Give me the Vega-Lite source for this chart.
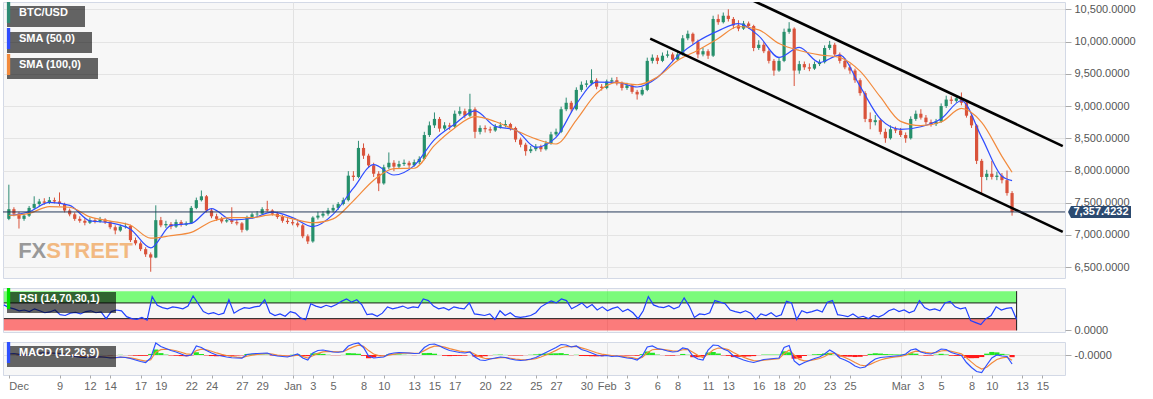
{
"$schema":"https://vega.github.io/schema/vega-lite/v6.json",
"background":"#ffffff",
"padding":{"left":0,"top":1,"right":5,"bottom":5},
"config":{
 "font":"Liberation Sans",
 "view":{"fill":"#f7f7f7","stroke":"#d3d9e6","strokeWidth":1},
 "axis":{"labelFont":"Liberation Sans","labelOverlap":false},
 "legend":{"orient":"top-left","offset":4,"fillColor":"rgba(0,0,0,0.6)","padding":1,"labelColor":"#ffffff","labelFont":"Liberation Sans","labelFontSize":11,"labelFontWeight":"bold","symbolType":"M-3,-5.2V5.2M-2.6,-5.2V5.2M-2.25,-5.2V5.2M-1.95,-5.2V5.2","symbolSize":16,"symbolStrokeWidth":1.2,"labelOffset":0,"layout":{"top-left":{"direction":"vertical","margin":5,"anchor":"start"}}}
},
"datasets":{
"c":[
{"t":"2019-12-04T00:00","o":7250,"h":7780,"l":7230,"c":7400,"r":65,"m":20,"q":20,"g":0},
{"t":"2019-12-04T12:00","o":7400,"h":7430,"l":7290,"c":7330,"r":58,"m":30,"q":25,"g":3},
{"t":"2019-12-05T00:00","o":7330,"h":7360,"l":7100,"c":7250,"r":55,"m":10,"q":18,"g":-5},
{"t":"2019-12-05T12:00","o":7250,"h":7330,"l":7220,"c":7300,"r":50,"m":0,"q":10,"g":-6},
{"t":"2019-12-06T00:00","o":7300,"h":7450,"l":7280,"c":7420,"r":52,"m":15,"q":12,"g":2},
{"t":"2019-12-06T12:00","o":7420,"h":7600,"l":7400,"c":7480,"r":48,"m":30,"q":20,"g":6},
{"t":"2019-12-07T00:00","o":7480,"h":7560,"l":7450,"c":7520,"r":55,"m":40,"q":29,"g":7},
{"t":"2019-12-07T12:00","o":7520,"h":7570,"l":7470,"c":7500,"r":50,"m":45,"q":36,"g":5},
{"t":"2019-12-08T00:00","o":7500,"h":7590,"l":7480,"c":7540,"r":45,"m":40,"q":38,"g":1},
{"t":"2019-12-08T12:00","o":7540,"h":7580,"l":7490,"c":7520,"r":47,"m":35,"q":37,"g":-1},
{"t":"2019-12-09T00:00","o":7520,"h":7660,"l":7450,"c":7480,"r":52,"m":30,"q":34,"g":-2},
{"t":"2019-12-09T12:00","o":7480,"h":7500,"l":7350,"c":7380,"r":40,"m":10,"q":23,"g":-8},
{"t":"2019-12-10T00:00","o":7380,"h":7410,"l":7290,"c":7320,"r":38,"m":-10,"q":8,"g":-11},
{"t":"2019-12-10T12:00","o":7320,"h":7350,"l":7220,"c":7250,"r":44,"m":-30,"q":-9,"g":-13},
{"t":"2019-12-11T00:00","o":7250,"h":7290,"l":7190,"c":7220,"r":46,"m":-45,"q":-25,"g":-12},
{"t":"2019-12-11T12:00","o":7220,"h":7260,"l":7150,"c":7190,"r":42,"m":-50,"q":-36,"g":-8},
{"t":"2019-12-12T00:00","o":7190,"h":7270,"l":7170,"c":7230,"r":48,"m":-45,"q":-40,"g":-3},
{"t":"2019-12-12T12:00","o":7230,"h":7260,"l":7180,"c":7210,"r":50,"m":-40,"q":-40,"g":0},
{"t":"2019-12-13T00:00","o":7210,"h":7280,"l":7190,"c":7240,"r":45,"m":-35,"q":-38,"g":2},
{"t":"2019-12-13T12:00","o":7240,"h":7260,"l":7170,"c":7200,"r":47,"m":-45,"q":-41,"g":-2},
{"t":"2019-12-14T00:00","o":7200,"h":7220,"l":7090,"c":7120,"r":30,"m":-60,"q":-50,"g":-6},
{"t":"2019-12-14T12:00","o":7120,"h":7150,"l":7010,"c":7070,"r":48,"m":-55,"q":-52,"g":-2},
{"t":"2019-12-15T00:00","o":7070,"h":7160,"l":7050,"c":7130,"r":52,"m":-40,"q":-47,"g":4},
{"t":"2019-12-15T12:00","o":7130,"h":7190,"l":7100,"c":7140,"r":50,"m":-50,"q":-48,"g":-1},
{"t":"2019-12-16T00:00","o":7140,"h":7160,"l":6890,"c":6920,"r":35,"m":-70,"q":-58,"g":-7},
{"t":"2019-12-16T12:00","o":6920,"h":6960,"l":6840,"c":6870,"r":30,"m":-100,"q":-77,"g":-14},
{"t":"2019-12-17T00:00","o":6870,"h":6900,"l":6750,"c":6780,"r":28,"m":-130,"q":-101,"g":-17},
{"t":"2019-12-17T12:00","o":6780,"h":6810,"l":6660,"c":6700,"r":33,"m":-150,"q":-123,"g":-16},
{"t":"2019-12-18T00:00","o":6700,"h":6730,"l":6430,"c":6650,"r":26,"m":-60,"q":-95,"g":21},
{"t":"2019-12-18T12:00","o":6650,"h":7460,"l":6640,"c":7230,"r":86,"m":240,"q":56,"g":110},
{"t":"2019-12-19T00:00","o":7230,"h":7280,"l":7120,"c":7150,"r":64,"m":170,"q":107,"g":38},
{"t":"2019-12-19T12:00","o":7150,"h":7220,"l":7110,"c":7170,"r":58,"m":130,"q":117,"g":8},
{"t":"2019-12-20T00:00","o":7170,"h":7200,"l":7090,"c":7130,"r":55,"m":90,"q":105,"g":-9},
{"t":"2019-12-20T12:00","o":7130,"h":7240,"l":7110,"c":7200,"r":60,"m":60,"q":85,"g":-15},
{"t":"2019-12-21T00:00","o":7200,"h":7230,"l":7130,"c":7160,"r":58,"m":20,"q":56,"g":-22},
{"t":"2019-12-21T12:00","o":7160,"h":7210,"l":7140,"c":7180,"r":55,"m":-20,"q":22,"g":-25},
{"t":"2019-12-22T00:00","o":7180,"h":7450,"l":7170,"c":7420,"r":62,"m":0,"q":12,"g":-7},
{"t":"2019-12-22T12:00","o":7420,"h":7580,"l":7400,"c":7540,"r":88,"m":180,"q":88,"g":55},
{"t":"2019-12-23T00:00","o":7540,"h":7690,"l":7520,"c":7600,"r":68,"m":150,"q":116,"g":20},
{"t":"2019-12-23T12:00","o":7600,"h":7620,"l":7350,"c":7380,"r":48,"m":90,"q":104,"g":-8},
{"t":"2019-12-24T00:00","o":7380,"h":7410,"l":7260,"c":7290,"r":42,"m":40,"q":75,"g":-21},
{"t":"2019-12-24T12:00","o":7290,"h":7330,"l":7220,"c":7250,"r":45,"m":0,"q":41,"g":-25},
{"t":"2019-12-25T00:00","o":7250,"h":7280,"l":7180,"c":7210,"r":40,"m":-20,"q":14,"g":-20},
{"t":"2019-12-25T12:00","o":7210,"h":7260,"l":7190,"c":7230,"r":44,"m":-40,"q":-10,"g":-18},
{"t":"2019-12-26T00:00","o":7230,"h":7430,"l":7170,"c":7200,"r":78,"m":-55,"q":-30,"g":-15},
{"t":"2019-12-26T12:00","o":7200,"h":7240,"l":7150,"c":7180,"r":44,"m":-60,"q":-44,"g":-10},
{"t":"2019-12-27T00:00","o":7180,"h":7200,"l":7040,"c":7080,"r":52,"m":-65,"q":-53,"g":-7},
{"t":"2019-12-27T12:00","o":7080,"h":7300,"l":7060,"c":7280,"r":58,"m":10,"q":-25,"g":21},
{"t":"2019-12-28T00:00","o":7280,"h":7350,"l":7250,"c":7320,"r":56,"m":25,"q":-2,"g":16},
{"t":"2019-12-28T12:00","o":7320,"h":7370,"l":7290,"c":7330,"r":60,"m":30,"q":12,"g":11},
{"t":"2019-12-29T00:00","o":7330,"h":7430,"l":7310,"c":7400,"r":62,"m":35,"q":22,"g":8},
{"t":"2019-12-29T12:00","o":7400,"h":7530,"l":7360,"c":7380,"r":78,"m":40,"q":30,"g":6},
{"t":"2019-12-30T00:00","o":7380,"h":7400,"l":7300,"c":7330,"r":45,"m":0,"q":17,"g":-10},
{"t":"2019-12-30T12:00","o":7330,"h":7360,"l":7250,"c":7280,"r":38,"m":-20,"q":0,"g":-12},
{"t":"2019-12-31T00:00","o":7280,"h":7310,"l":7190,"c":7220,"r":42,"m":-30,"q":-13,"g":-10},
{"t":"2019-12-31T12:00","o":7220,"h":7260,"l":7170,"c":7200,"r":36,"m":-40,"q":-25,"g":-9},
{"t":"2020-01-01T00:00","o":7200,"h":7240,"l":7150,"c":7180,"r":48,"m":-10,"q":-18,"g":5},
{"t":"2020-01-01T12:00","o":7180,"h":7210,"l":7120,"c":7150,"r":44,"m":20,"q":-1,"g":13},
{"t":"2020-01-02T00:00","o":7150,"h":7170,"l":6950,"c":6980,"r":32,"m":-60,"q":-28,"g":-19},
{"t":"2020-01-02T12:00","o":6980,"h":7010,"l":6860,"c":6900,"r":27,"m":-100,"q":-60,"g":-24},
{"t":"2020-01-03T00:00","o":6900,"h":7290,"l":6880,"c":7270,"r":68,"m":40,"q":-15,"g":33},
{"t":"2020-01-03T12:00","o":7270,"h":7360,"l":7240,"c":7300,"r":62,"m":90,"q":32,"g":35},
{"t":"2020-01-04T00:00","o":7300,"h":7370,"l":7270,"c":7330,"r":58,"m":100,"q":63,"g":22},
{"t":"2020-01-04T12:00","o":7330,"h":7420,"l":7300,"c":7380,"r":64,"m":80,"q":71,"g":5},
{"t":"2020-01-05T00:00","o":7380,"h":7470,"l":7350,"c":7420,"r":60,"m":60,"q":66,"g":-4},
{"t":"2020-01-05T12:00","o":7420,"h":7510,"l":7390,"c":7480,"r":66,"m":55,"q":61,"g":-4},
{"t":"2020-01-06T00:00","o":7480,"h":7580,"l":7460,"c":7540,"r":74,"m":70,"q":65,"g":3},
{"t":"2020-01-06T12:00","o":7540,"h":7990,"l":7520,"c":7920,"r":80,"m":180,"q":117,"g":38},
{"t":"2020-01-07T00:00","o":7920,"h":7990,"l":7840,"c":7900,"r":72,"m":220,"q":163,"g":34},
{"t":"2020-01-07T12:00","o":7900,"h":8460,"l":7880,"c":8350,"r":78,"m":240,"q":198,"g":25},
{"t":"2020-01-08T00:00","o":8350,"h":8420,"l":8180,"c":8230,"r":65,"m":150,"q":176,"g":-16},
{"t":"2020-01-08T12:00","o":8230,"h":8260,"l":8040,"c":8080,"r":40,"m":-20,"q":88,"g":-65},
{"t":"2020-01-09T00:00","o":8080,"h":8120,"l":7900,"c":7950,"r":42,"m":-60,"q":21,"g":-49},
{"t":"2020-01-09T12:00","o":7950,"h":7990,"l":7680,"c":7800,"r":36,"m":-50,"q":-11,"g":-23},
{"t":"2020-01-10T00:00","o":7800,"h":8090,"l":7780,"c":8050,"r":44,"m":-40,"q":-24,"g":-10},
{"t":"2020-01-10T12:00","o":8050,"h":8280,"l":8020,"c":8120,"r":60,"m":20,"q":-4,"g":14},
{"t":"2020-01-11T00:00","o":8120,"h":8160,"l":7990,"c":8060,"r":55,"m":40,"q":16,"g":14},
{"t":"2020-01-11T12:00","o":8060,"h":8150,"l":8030,"c":8100,"r":58,"m":50,"q":31,"g":11},
{"t":"2020-01-12T00:00","o":8100,"h":8170,"l":8070,"c":8120,"r":62,"m":45,"q":37,"g":5},
{"t":"2020-01-12T12:00","o":8120,"h":8150,"l":8040,"c":8080,"r":56,"m":40,"q":38,"g":1},
{"t":"2020-01-13T00:00","o":8080,"h":8170,"l":8060,"c":8130,"r":60,"m":30,"q":35,"g":-3},
{"t":"2020-01-13T12:00","o":8130,"h":8220,"l":8100,"c":8180,"r":58,"m":35,"q":35,"g":0},
{"t":"2020-01-14T00:00","o":8180,"h":8600,"l":8160,"c":8550,"r":80,"m":150,"q":87,"g":38},
{"t":"2020-01-14T12:00","o":8550,"h":8760,"l":8520,"c":8700,"r":76,"m":210,"q":142,"g":41},
{"t":"2020-01-15T00:00","o":8700,"h":8900,"l":8660,"c":8800,"r":62,"m":220,"q":177,"g":26},
{"t":"2020-01-15T12:00","o":8800,"h":8830,"l":8600,"c":8650,"r":55,"m":180,"q":178,"g":1},
{"t":"2020-01-16T00:00","o":8650,"h":8750,"l":8620,"c":8700,"r":58,"m":130,"q":156,"g":-16},
{"t":"2020-01-16T12:00","o":8700,"h":8740,"l":8630,"c":8680,"r":52,"m":90,"q":126,"g":-22},
{"t":"2020-01-17T00:00","o":8680,"h":8930,"l":8660,"c":8880,"r":60,"m":70,"q":101,"g":-19},
{"t":"2020-01-17T12:00","o":8880,"h":8990,"l":8850,"c":8920,"r":57,"m":50,"q":78,"g":-17},
{"t":"2020-01-18T00:00","o":8920,"h":8960,"l":8810,"c":8850,"r":55,"m":40,"q":61,"g":-13},
{"t":"2020-01-18T12:00","o":8850,"h":9190,"l":8830,"c":8950,"r":70,"m":60,"q":61,"g":0},
{"t":"2020-01-19T00:00","o":8950,"h":8980,"l":8500,"c":8600,"r":42,"m":-40,"q":15,"g":-33},
{"t":"2020-01-19T12:00","o":8600,"h":8700,"l":8560,"c":8660,"r":40,"m":-100,"q":-37,"g":-38},
{"t":"2020-01-20T00:00","o":8660,"h":8700,"l":8590,"c":8640,"r":38,"m":-110,"q":-70,"g":-24},
{"t":"2020-01-20T12:00","o":8640,"h":8680,"l":8580,"c":8620,"r":42,"m":-80,"q":-74,"g":-4},
{"t":"2020-01-21T00:00","o":8620,"h":8720,"l":8600,"c":8680,"r":28,"m":-60,"q":-68,"g":5},
{"t":"2020-01-21T12:00","o":8680,"h":8750,"l":8650,"c":8700,"r":50,"m":-40,"q":-55,"g":9},
{"t":"2020-01-22T00:00","o":8700,"h":8780,"l":8670,"c":8720,"r":38,"m":-50,"q":-53,"g":2},
{"t":"2020-01-22T12:00","o":8720,"h":8740,"l":8620,"c":8660,"r":45,"m":-80,"q":-65,"g":-9},
{"t":"2020-01-23T00:00","o":8660,"h":8680,"l":8440,"c":8480,"r":35,"m":-100,"q":-81,"g":-11},
{"t":"2020-01-23T12:00","o":8480,"h":8510,"l":8360,"c":8400,"r":33,"m":-110,"q":-94,"g":-10},
{"t":"2020-01-24T00:00","o":8400,"h":8430,"l":8230,"c":8300,"r":35,"m":-100,"q":-97,"g":-2},
{"t":"2020-01-24T12:00","o":8300,"h":8380,"l":8270,"c":8330,"r":38,"m":-80,"q":-89,"g":5},
{"t":"2020-01-25T00:00","o":8330,"h":8410,"l":8300,"c":8370,"r":45,"m":-50,"q":-71,"g":13},
{"t":"2020-01-25T12:00","o":8370,"h":8400,"l":8290,"c":8330,"r":60,"m":0,"q":-39,"g":23},
{"t":"2020-01-26T00:00","o":8330,"h":8460,"l":8310,"c":8420,"r":68,"m":50,"q":1,"g":29},
{"t":"2020-01-26T12:00","o":8420,"h":8600,"l":8400,"c":8560,"r":75,"m":100,"q":46,"g":32},
{"t":"2020-01-27T00:00","o":8560,"h":8650,"l":8530,"c":8600,"r":70,"m":150,"q":93,"g":34},
{"t":"2020-01-27T12:00","o":8600,"h":8990,"l":8580,"c":8950,"r":80,"m":210,"q":146,"g":38},
{"t":"2020-01-28T00:00","o":8950,"h":9130,"l":8920,"c":9050,"r":76,"m":200,"q":170,"g":18},
{"t":"2020-01-28T12:00","o":9050,"h":9080,"l":8900,"c":8950,"r":55,"m":160,"q":166,"g":-4},
{"t":"2020-01-29T00:00","o":8950,"h":9290,"l":8930,"c":9250,"r":62,"m":180,"q":172,"g":5},
{"t":"2020-01-29T12:00","o":9250,"h":9380,"l":9220,"c":9330,"r":70,"m":110,"q":144,"g":-20},
{"t":"2020-01-30T00:00","o":9330,"h":9400,"l":9290,"c":9350,"r":58,"m":80,"q":115,"g":-21},
{"t":"2020-01-30T12:00","o":9350,"h":9570,"l":9320,"c":9400,"r":66,"m":40,"q":81,"g":-25},
{"t":"2020-01-31T00:00","o":9400,"h":9430,"l":9260,"c":9300,"r":52,"m":0,"q":45,"g":-27},
{"t":"2020-01-31T12:00","o":9300,"h":9340,"l":9240,"c":9280,"r":60,"m":-20,"q":16,"g":-22},
{"t":"2020-02-01T00:00","o":9280,"h":9410,"l":9260,"c":9380,"r":50,"m":-10,"q":4,"g":-8},
{"t":"2020-02-01T12:00","o":9380,"h":9440,"l":9350,"c":9400,"r":56,"m":-30,"q":-11,"g":-11},
{"t":"2020-02-02T00:00","o":9400,"h":9450,"l":9320,"c":9350,"r":60,"m":-20,"q":-15,"g":-3},
{"t":"2020-02-02T12:00","o":9350,"h":9380,"l":9240,"c":9280,"r":48,"m":-40,"q":-26,"g":-8},
{"t":"2020-02-03T00:00","o":9280,"h":9360,"l":9250,"c":9320,"r":54,"m":-60,"q":-41,"g":-11},
{"t":"2020-02-03T12:00","o":9320,"h":9340,"l":9190,"c":9220,"r":45,"m":-70,"q":-54,"g":-10},
{"t":"2020-02-04T00:00","o":9220,"h":9250,"l":9100,"c":9180,"r":30,"m":-100,"q":-75,"g":-15},
{"t":"2020-02-04T12:00","o":9180,"h":9290,"l":9160,"c":9250,"r":50,"m":-20,"q":-50,"g":18},
{"t":"2020-02-05T00:00","o":9250,"h":9750,"l":9230,"c":9700,"r":86,"m":160,"q":44,"g":70},
{"t":"2020-02-05T12:00","o":9700,"h":9800,"l":9660,"c":9750,"r":65,"m":180,"q":105,"g":45},
{"t":"2020-02-06T00:00","o":9750,"h":9790,"l":9650,"c":9700,"r":60,"m":130,"q":116,"g":8},
{"t":"2020-02-06T12:00","o":9700,"h":9830,"l":9680,"c":9780,"r":58,"m":110,"q":113,"g":-2},
{"t":"2020-02-07T00:00","o":9780,"h":9860,"l":9750,"c":9800,"r":63,"m":80,"q":98,"g":-11},
{"t":"2020-02-07T12:00","o":9800,"h":9830,"l":9680,"c":9720,"r":55,"m":60,"q":81,"g":-13},
{"t":"2020-02-08T00:00","o":9720,"h":9840,"l":9700,"c":9800,"r":60,"m":70,"q":76,"g":-4},
{"t":"2020-02-08T12:00","o":9800,"h":10100,"l":9780,"c":10050,"r":83,"m":140,"q":105,"g":21},
{"t":"2020-02-09T00:00","o":10050,"h":10170,"l":10020,"c":10120,"r":62,"m":120,"q":112,"g":5},
{"t":"2020-02-09T12:00","o":10120,"h":10140,"l":9960,"c":10000,"r":33,"m":-20,"q":53,"g":-44},
{"t":"2020-02-10T00:00","o":10000,"h":10030,"l":9740,"c":9800,"r":42,"m":-80,"q":-7,"g":-44},
{"t":"2020-02-10T12:00","o":9800,"h":9900,"l":9770,"c":9850,"r":40,"m":-100,"q":-49,"g":-31},
{"t":"2020-02-11T00:00","o":9850,"h":9880,"l":9730,"c":9780,"r":45,"m":100,"q":18,"g":49},
{"t":"2020-02-11T12:00","o":9780,"h":10400,"l":9760,"c":10350,"r":76,"m":200,"q":100,"g":60},
{"t":"2020-02-12T00:00","o":10350,"h":10420,"l":10260,"c":10300,"r":72,"m":190,"q":140,"g":30},
{"t":"2020-02-12T12:00","o":10300,"h":10450,"l":10280,"c":10400,"r":68,"m":120,"q":131,"g":-7},
{"t":"2020-02-13T00:00","o":10400,"h":10500,"l":10310,"c":10350,"r":52,"m":80,"q":108,"g":-17},
{"t":"2020-02-13T12:00","o":10350,"h":10380,"l":10200,"c":10250,"r":48,"m":-20,"q":50,"g":-42},
{"t":"2020-02-14T00:00","o":10250,"h":10330,"l":10160,"c":10200,"r":45,"m":-60,"q":1,"g":-37},
{"t":"2020-02-14T12:00","o":10200,"h":10320,"l":10180,"c":10280,"r":50,"m":-100,"q":-44,"g":-34},
{"t":"2020-02-15T00:00","o":10280,"h":10310,"l":10200,"c":10240,"r":44,"m":-130,"q":-83,"g":-28},
{"t":"2020-02-15T12:00","o":10240,"h":10260,"l":9850,"c":9900,"r":28,"m":-150,"q":-113,"g":-22},
{"t":"2020-02-16T00:00","o":9900,"h":10020,"l":9870,"c":9950,"r":42,"m":-120,"q":-116,"g":-2},
{"t":"2020-02-16T12:00","o":9950,"h":9990,"l":9820,"c":9850,"r":38,"m":-90,"q":-104,"g":8},
{"t":"2020-02-17T00:00","o":9850,"h":9880,"l":9660,"c":9700,"r":45,"m":-80,"q":-93,"g":8},
{"t":"2020-02-17T12:00","o":9700,"h":9730,"l":9470,"c":9550,"r":35,"m":-70,"q":-83,"g":8},
{"t":"2020-02-18T00:00","o":9550,"h":9750,"l":9530,"c":9700,"r":40,"m":-60,"q":-73,"g":8},
{"t":"2020-02-18T12:00","o":9700,"h":10200,"l":9680,"c":10150,"r":74,"m":150,"q":27,"g":74},
{"t":"2020-02-19T00:00","o":10150,"h":10300,"l":10120,"c":10200,"r":70,"m":190,"q":100,"g":54},
{"t":"2020-02-19T12:00","o":10200,"h":10220,"l":9310,"c":9550,"r":28,"m":-120,"q":1,"g":-73},
{"t":"2020-02-20T00:00","o":9550,"h":9700,"l":9500,"c":9650,"r":50,"m":-200,"q":-89,"g":-67},
{"t":"2020-02-20T12:00","o":9650,"h":9690,"l":9560,"c":9600,"r":45,"m":-150,"q":-116,"g":-20},
{"t":"2020-02-21T00:00","o":9600,"h":9660,"l":9540,"c":9580,"r":48,"m":-110,"q":-113,"g":2},
{"t":"2020-02-21T12:00","o":9580,"h":9690,"l":9560,"c":9650,"r":52,"m":-70,"q":-94,"g":14},
{"t":"2020-02-22T00:00","o":9650,"h":9720,"l":9620,"c":9680,"r":47,"m":-40,"q":-70,"g":18},
{"t":"2020-02-22T12:00","o":9680,"h":9940,"l":9660,"c":9900,"r":72,"m":20,"q":-30,"g":30},
{"t":"2020-02-23T00:00","o":9900,"h":10010,"l":9870,"c":9950,"r":76,"m":100,"q":29,"g":43},
{"t":"2020-02-23T12:00","o":9950,"h":9980,"l":9760,"c":9800,"r":40,"m":40,"q":34,"g":4},
{"t":"2020-02-24T00:00","o":9800,"h":9830,"l":9660,"c":9700,"r":38,"m":-60,"q":-8,"g":-31},
{"t":"2020-02-24T12:00","o":9700,"h":9740,"l":9570,"c":9600,"r":35,"m":-100,"q":-49,"g":-31},
{"t":"2020-02-25T00:00","o":9600,"h":9650,"l":9500,"c":9550,"r":42,"m":-150,"q":-94,"g":-34},
{"t":"2020-02-25T12:00","o":9550,"h":9580,"l":9360,"c":9400,"r":33,"m":-220,"q":-151,"g":-41},
{"t":"2020-02-26T00:00","o":9400,"h":9430,"l":9160,"c":9200,"r":36,"m":-260,"q":-200,"g":-36},
{"t":"2020-02-26T12:00","o":9200,"h":9230,"l":8750,"c":8800,"r":30,"m":-240,"q":-218,"g":-13},
{"t":"2020-02-27T00:00","o":8800,"h":8900,"l":8640,"c":8750,"r":38,"m":-150,"q":-187,"g":22},
{"t":"2020-02-27T12:00","o":8750,"h":8860,"l":8700,"c":8780,"r":34,"m":-80,"q":-139,"g":35},
{"t":"2020-02-28T00:00","o":8780,"h":8810,"l":8560,"c":8600,"r":40,"m":-50,"q":-99,"g":29},
{"t":"2020-02-28T12:00","o":8600,"h":8650,"l":8430,"c":8500,"r":50,"m":-40,"q":-72,"g":19},
{"t":"2020-02-29T00:00","o":8500,"h":8700,"l":8480,"c":8640,"r":55,"m":-30,"q":-53,"g":14},
{"t":"2020-02-29T12:00","o":8640,"h":8680,"l":8580,"c":8620,"r":48,"m":-20,"q":-38,"g":11},
{"t":"2020-03-01T00:00","o":8620,"h":8660,"l":8520,"c":8550,"r":52,"m":-10,"q":-26,"g":10},
{"t":"2020-03-01T12:00","o":8550,"h":8590,"l":8430,"c":8500,"r":45,"m":20,"q":-5,"g":15},
{"t":"2020-03-02T00:00","o":8500,"h":8840,"l":8480,"c":8800,"r":50,"m":100,"q":42,"g":35},
{"t":"2020-03-02T12:00","o":8800,"h":8930,"l":8770,"c":8880,"r":76,"m":120,"q":77,"g":26},
{"t":"2020-03-03T00:00","o":8880,"h":8950,"l":8790,"c":8820,"r":58,"m":60,"q":69,"g":-5},
{"t":"2020-03-03T12:00","o":8820,"h":8860,"l":8710,"c":8750,"r":52,"m":30,"q":52,"g":-13},
{"t":"2020-03-04T00:00","o":8750,"h":8790,"l":8680,"c":8720,"r":55,"m":20,"q":38,"g":-11},
{"t":"2020-03-04T12:00","o":8720,"h":8800,"l":8690,"c":8760,"r":50,"m":60,"q":48,"g":7},
{"t":"2020-03-05T00:00","o":8760,"h":9040,"l":8740,"c":9000,"r":70,"m":120,"q":80,"g":24},
{"t":"2020-03-05T12:00","o":9000,"h":9160,"l":8970,"c":9100,"r":74,"m":110,"q":94,"g":10},
{"t":"2020-03-06T00:00","o":9100,"h":9150,"l":9030,"c":9080,"r":60,"m":50,"q":74,"g":-14},
{"t":"2020-03-06T12:00","o":9080,"h":9170,"l":9050,"c":9120,"r":55,"m":20,"q":50,"g":-18},
{"t":"2020-03-07T00:00","o":9120,"h":9210,"l":9010,"c":9050,"r":58,"m":-10,"q":23,"g":-20},
{"t":"2020-03-07T12:00","o":9050,"h":9070,"l":8820,"c":8850,"r":25,"m":-150,"q":-55,"g":-57},
{"t":"2020-03-08T00:00","o":8850,"h":8880,"l":8660,"c":8700,"r":20,"m":-250,"q":-143,"g":-64},
{"t":"2020-03-08T12:00","o":8700,"h":8720,"l":8100,"c":8150,"r":15,"m":-330,"q":-227,"g":-62},
{"t":"2020-03-09T00:00","o":8150,"h":8180,"l":7650,"c":7900,"r":30,"m":-350,"q":-282,"g":-41},
{"t":"2020-03-09T12:00","o":7900,"h":8010,"l":7850,"c":7950,"r":38,"m":-200,"q":-245,"g":27},
{"t":"2020-03-10T00:00","o":7950,"h":8150,"l":7860,"c":7900,"r":60,"m":-60,"q":-162,"g":61},
{"t":"2020-03-10T12:00","o":7900,"h":7980,"l":7850,"c":7920,"r":52,"m":0,"q":-89,"g":53},
{"t":"2020-03-11T00:00","o":7920,"h":7960,"l":7800,"c":7850,"r":56,"m":-20,"q":-58,"g":23},
{"t":"2020-03-11T12:00","o":7850,"h":8000,"l":7610,"c":7650,"r":58,"m":-30,"q":-45,"g":9},
{"t":"2020-03-12T00:00","o":7650,"h":7680,"l":7300,"c":7357,"r":28,"m":-180,"q":-106,"g":-44}
],
"s":[
{"t":"2019-12-04T00:00","a":7302,"b":7302},{"t":"2019-12-06T00:00","a":7360,"b":7335},{"t":"2019-12-08T00:00","a":7505,"b":7440},{"t":"2019-12-10T00:00","a":7460,"b":7430},
{"t":"2019-12-12T00:00","a":7220,"b":7280},{"t":"2019-12-14T00:00","a":7190,"b":7215},{"t":"2019-12-16T00:00","a":7090,"b":7150},{"t":"2019-12-18T00:00","a":6800,"b":6950},
{"t":"2019-12-20T00:00","a":7150,"b":6990},{"t":"2019-12-22T00:00","a":7180,"b":7040},{"t":"2019-12-24T00:00","a":7410,"b":7210},{"t":"2019-12-26T00:00","a":7235,"b":7270},
{"t":"2019-12-28T00:00","a":7260,"b":7270},{"t":"2019-12-30T00:00","a":7354,"b":7317},{"t":"2020-01-01T00:00","a":7270,"b":7250},{"t":"2020-01-03T00:00","a":7130,"b":7190},
{"t":"2020-01-05T00:00","a":7320,"b":7250},{"t":"2020-01-07T00:00","a":7725,"b":7530},{"t":"2020-01-09T00:00","a":8090,"b":7850},{"t":"2020-01-11T00:00","a":7930,"b":8030},
{"t":"2020-01-13T00:00","a":8076,"b":8035},{"t":"2020-01-15T00:00","a":8480,"b":8390},{"t":"2020-01-17T00:00","a":8720,"b":8660},{"t":"2020-01-19T00:00","a":8925,"b":8834},
{"t":"2020-01-21T00:00","a":8685,"b":8760},{"t":"2020-01-23T00:00","a":8628,"b":8625},{"t":"2020-01-25T00:00","a":8360,"b":8490},{"t":"2020-01-27T00:00","a":8514,"b":8411},
{"t":"2020-01-29T00:00","a":9030,"b":8783},{"t":"2020-01-31T00:00","a":9370,"b":9196},{"t":"2020-02-02T00:00","a":9366,"b":9366},{"t":"2020-02-04T00:00","a":9295,"b":9330},
{"t":"2020-02-06T00:00","a":9443,"b":9448},{"t":"2020-02-08T00:00","a":9773,"b":9706},{"t":"2020-02-10T00:00","a":10005,"b":9866},{"t":"2020-02-12T00:00","a":10166,"b":10047},
{"t":"2020-02-14T00:00","a":10279,"b":10233},{"t":"2020-02-16T00:00","a":10088,"b":10181},{"t":"2020-02-18T00:00","a":9753,"b":9970},{"t":"2020-02-20T00:00","a":9908,"b":9861},
{"t":"2020-02-22T00:00","a":9675,"b":9794},{"t":"2020-02-24T00:00","a":9789,"b":9753},{"t":"2020-02-26T00:00","a":9304,"b":9541},{"t":"2020-02-28T00:00","a":8800,"b":9140},
{"t":"2020-03-01T00:00","a":8638,"b":8762},{"t":"2020-03-03T00:00","a":8679,"b":8695},{"t":"2020-03-05T00:00","a":8803,"b":8752},{"t":"2020-03-07T00:00","a":9082,"b":8963},
{"t":"2020-03-09T00:00","a":8514,"b":8747},{"t":"2020-03-11T00:00","a":7911,"b":8220},{"t":"2020-03-12T00:00","a":7844,"b":7973}
],
"ch":[
{"t":"2020-02-05T07:00","p":10046,"g":"lo"},{"t":"2020-03-17T00:00","p":7049,"g":"lo"},
{"t":"2020-02-15T00:00","p":10667,"g":"up"},{"t":"2020-03-17T00:00","p":8379,"g":"up"}
]
},
"spacing":10,
"bounds":"flush",
"resolve":{"scale":{"color":"independent"},"legend":{"color":"independent"}},
"vconcat":[
{
 "width":1062,"height":276,
 "resolve":{"scale":{"color":"independent"}},
 "layer":[
  {"data":{"name":"c"},
   "mark":{"type":"rule","strokeWidth":1},
   "encoding":{
    "x":{"field":"t","type":"temporal","scale":{"domain":[{"year":2019,"month":12,"date":3,"hours":22},{"year":2020,"month":3,"date":16,"hours":17,"minutes":30}]},
         "axis":{"values":[{"year":2020,"month":1,"date":1},{"year":2020,"month":2,"date":1},{"year":2020,"month":3,"date":1}],"tickCount":100,"labels":false,"ticks":false,"domain":false,"grid":true,"gridColor":"#e2e2e2","title":null}},
    "y":{"field":"l","type":"quantitative","scale":{"domain":[6333,10613],"zero":false,"nice":false},
         "axis":{"orient":"right","values":[6500,7000,7500,8000,8500,9000,9500,10000,10500],"tickCount":100,"labelOverlap":false,"format":",.4f","grid":true,"gridColor":"#e4e4e4","gridWidth":1.2,"tickSize":6,"tickColor":"#aaaaaa","labelPadding":3,"labelColor":"#555555","labelFontSize":11,"domain":false,"title":null}},
    "y2":{"field":"h"},
    "color":{"datum":"BTC/USD","type":"nominal","scale":{"range":["#2e8b74"]},"condition":{"test":"datum.c < datum.o","value":"#d9533b"},
             "legend":{"title":null,"orient":"top-left","labelExpr":"datum.label + '\u00a0\u00a0\u00a0\u00a0\u00a0\u200b'"}}
   }},
  {"data":{"name":"c"},
   "mark":{"type":"bar","width":3.2},
   "encoding":{
    "x":{"field":"t","type":"temporal","scale":{"domain":[{"year":2019,"month":12,"date":3,"hours":22},{"year":2020,"month":3,"date":16,"hours":17,"minutes":30}]}},
    "y":{"field":"o","type":"quantitative","scale":{"domain":[6333,10613],"zero":false,"nice":false}},
    "y2":{"field":"c"},
    "color":{"condition":{"test":"datum.c < datum.o","value":"#d9533b"},"value":"#26906b"}
   }},
  {"data":{"name":"s"},
   "mark":{"type":"line","strokeWidth":1.2,"interpolate":"monotone"},
   "encoding":{
    "x":{"field":"t","type":"temporal","scale":{"domain":[{"year":2019,"month":12,"date":3,"hours":22},{"year":2020,"month":3,"date":16,"hours":17,"minutes":30}]}},
    "y":{"field":"a","type":"quantitative","scale":{"domain":[6333,10613],"zero":false,"nice":false}},
    "color":{"datum":"SMA (50,0)","type":"nominal","scale":{"range":["#2f4dff"]},
             "legend":{"title":null,"orient":"top-left","labelExpr":"datum.label + '\u00a0\u00a0\u00a0\u00a0\u00a0\u200b'"}}
   }},
  {"data":{"name":"s"},
   "mark":{"type":"line","strokeWidth":1.2,"interpolate":"monotone"},
   "encoding":{
    "x":{"field":"t","type":"temporal","scale":{"domain":[{"year":2019,"month":12,"date":3,"hours":22},{"year":2020,"month":3,"date":16,"hours":17,"minutes":30}]}},
    "y":{"field":"b","type":"quantitative","scale":{"domain":[6333,10613],"zero":false,"nice":false}},
    "color":{"datum":"SMA (100,0)","type":"nominal","scale":{"range":["#f28a3c"]},
             "legend":{"title":null,"orient":"top-left","labelExpr":"datum.label + '\u00a0\u00a0\u00a0\u00a0\u00a0\u200b'"}}
   }},
  {"data":{"values":[{}]},
   "mark":{"type":"text","align":"left","baseline":"alphabetic","fontWeight":"bold","fontSize":22,"color":"#7a7a7a","opacity":0.75},
   "encoding":{
    "x":{"datum":{"year":2019,"month":12,"date":4,"hours":22},"type":"temporal","scale":{"domain":[{"year":2019,"month":12,"date":3,"hours":22},{"year":2020,"month":3,"date":16,"hours":17,"minutes":30}]}},
    "y":{"datum":6636,"type":"quantitative","scale":{"domain":[6333,10613],"zero":false,"nice":false}},
    "text":{"value":"FX"}
   }},
  {"data":{"values":[{}]},
   "mark":{"type":"text","align":"left","baseline":"alphabetic","dx":28,"fontWeight":"bold","fontSize":22,"color":"#f0a050","opacity":0.7},
   "encoding":{
    "x":{"datum":{"year":2019,"month":12,"date":4,"hours":22},"type":"temporal","scale":{"domain":[{"year":2019,"month":12,"date":3,"hours":22},{"year":2020,"month":3,"date":16,"hours":17,"minutes":30}]}},
    "y":{"datum":6636,"type":"quantitative","scale":{"domain":[6333,10613],"zero":false,"nice":false}},
    "text":{"value":"STREET"}
   }},
  {"data":{"name":"ch"},
   "mark":{"type":"line","color":"#000000","strokeWidth":2.6,"clip":true},
   "encoding":{
    "x":{"field":"t","type":"temporal","scale":{"domain":[{"year":2019,"month":12,"date":3,"hours":22},{"year":2020,"month":3,"date":16,"hours":17,"minutes":30}]}},
    "y":{"field":"p","type":"quantitative","scale":{"domain":[6333,10613],"zero":false,"nice":false}},
    "detail":{"field":"g"}
   }},
  {"data":{"values":[{"p":7357.4232}]},
   "mark":{"type":"rule","color":"#26395a","strokeWidth":1},
   "encoding":{
    "y":{"field":"p","type":"quantitative","scale":{"domain":[6333,10613],"zero":false,"nice":false}}
   }},
  {"data":{"values":[{"p":7357.4232}]},
   "mark":{"type":"point","shape":"M0.5,0L1,-1H11V1H1Z","size":144,"filled":true,"color":"#2b4a70","opacity":1,"strokeWidth":0},
   "encoding":{
    "x":{"value":"width"},
    "y":{"field":"p","type":"quantitative","scale":{"domain":[6333,10613],"zero":false,"nice":false}}
   }},
  {"data":{"values":[{"p":7357.4232}]},
   "mark":{"type":"text","dx":36,"align":"center","baseline":"middle","color":"#ffffff","fontWeight":"bold","fontSize":11,"font":"Liberation Sans"},
   "encoding":{
    "x":{"value":"width"},
    "y":{"field":"p","type":"quantitative","scale":{"domain":[6333,10613],"zero":false,"nice":false}},
    "text":{"field":"p","type":"quantitative","format":",.4f"}
   }}
 ]
},
{
 "width":1062,"height":44,
 "resolve":{"scale":{"color":"independent"}},
 "layer":[
  {"data":{"name":"c"},
   "mark":{"type":"rect","color":"#00ff00","opacity":0.5},
   "encoding":{
    "x":{"aggregate":"min","field":"t","type":"temporal","scale":{"domain":[{"year":2019,"month":12,"date":3,"hours":22},{"year":2020,"month":3,"date":16,"hours":17,"minutes":30}]},
         "axis":{"values":[{"year":2020,"month":1,"date":1},{"year":2020,"month":2,"date":1},{"year":2020,"month":3,"date":1}],"tickCount":100,"labels":false,"ticks":false,"domain":false,"grid":true,"gridColor":"#e2e2e2","title":null}},
    "x2":{"aggregate":"max","field":"t"},
    "y":{"datum":70,"type":"quantitative","scale":{"domain":[-4,108],"zero":false,"nice":false},
         "axis":{"orient":"right","values":[0],"tickCount":100,"format":",.4f","grid":false,"tickSize":6,"tickColor":"#aaaaaa","labelPadding":3,"labelColor":"#555555","labelFontSize":11,"domain":false,"title":null}},
    "y2":{"datum":100}
   }},
  {"data":{"name":"c"},
   "mark":{"type":"rect","color":"#ff0000","opacity":0.5},
   "encoding":{
    "x":{"aggregate":"min","field":"t","type":"temporal","scale":{"domain":[{"year":2019,"month":12,"date":3,"hours":22},{"year":2020,"month":3,"date":16,"hours":17,"minutes":30}]}},
    "x2":{"aggregate":"max","field":"t"},
    "y":{"datum":0,"type":"quantitative","scale":{"domain":[-4,108],"zero":false,"nice":false}},
    "y2":{"datum":30}
   }},
  {"data":{"name":"c"},
   "mark":{"type":"rule","color":"#1a1a1a","strokeWidth":1},
   "encoding":{
    "x":{"aggregate":"min","field":"t","type":"temporal","scale":{"domain":[{"year":2019,"month":12,"date":3,"hours":22},{"year":2020,"month":3,"date":16,"hours":17,"minutes":30}]}},
    "x2":{"aggregate":"max","field":"t"},
    "y":{"datum":70,"type":"quantitative","scale":{"domain":[-4,108],"zero":false,"nice":false}}
   }},
  {"data":{"name":"c"},
   "mark":{"type":"rule","color":"#1a1a1a","strokeWidth":1},
   "encoding":{
    "x":{"aggregate":"min","field":"t","type":"temporal","scale":{"domain":[{"year":2019,"month":12,"date":3,"hours":22},{"year":2020,"month":3,"date":16,"hours":17,"minutes":30}]}},
    "x2":{"aggregate":"max","field":"t"},
    "y":{"datum":30,"type":"quantitative","scale":{"domain":[-4,108],"zero":false,"nice":false}}
   }},
  {"data":{"name":"c"},
   "mark":{"type":"rule","color":"#1a1a1a","strokeWidth":1},
   "encoding":{
    "x":{"aggregate":"max","field":"t","type":"temporal","scale":{"domain":[{"year":2019,"month":12,"date":3,"hours":22},{"year":2020,"month":3,"date":16,"hours":17,"minutes":30}]}},
    "y":{"datum":0,"type":"quantitative","scale":{"domain":[-4,108],"zero":false,"nice":false}},
    "y2":{"datum":100}
   }},
  {"data":{"name":"c"},
   "mark":{"type":"line","strokeWidth":1.2},
   "encoding":{
    "x":{"field":"t","type":"temporal","scale":{"domain":[{"year":2019,"month":12,"date":3,"hours":22},{"year":2020,"month":3,"date":16,"hours":17,"minutes":30}]}},
    "y":{"field":"r","type":"quantitative","scale":{"domain":[-4,108],"zero":false,"nice":false}},
    "color":{"datum":"RSI (14,70,30,1)","type":"nominal","scale":{"range":["#00e000"]},"condition":{"test":"true","value":"#1f3fff"},
             "legend":{"title":null,"orient":"top-left","labelExpr":"datum.label + '\u00a0\u00a0\u00a0\u00a0\u00a0\u200b'"}}
   }}
 ]
},
{
 "width":1062,"height":33,
 "resolve":{"scale":{"color":"independent"}},
 "layer":[
  {"data":{"name":"c"},
   "mark":{"type":"bar","width":5.2},
   "encoding":{
    "x":{"field":"t","type":"temporal","scale":{"domain":[{"year":2019,"month":12,"date":3,"hours":22},{"year":2020,"month":3,"date":16,"hours":17,"minutes":30}]},
         "axis":{"values":[{"year":2019,"month":12,"date":4},{"year":2019,"month":12,"date":9},{"year":2019,"month":12,"date":12},{"year":2019,"month":12,"date":14},{"year":2019,"month":12,"date":17},{"year":2019,"month":12,"date":19},{"year":2019,"month":12,"date":22},{"year":2019,"month":12,"date":24},{"year":2019,"month":12,"date":27},{"year":2019,"month":12,"date":29},
                           {"year":2020,"month":1,"date":1},{"year":2020,"month":1,"date":3},{"year":2020,"month":1,"date":5},{"year":2020,"month":1,"date":8},{"year":2020,"month":1,"date":10},{"year":2020,"month":1,"date":13},{"year":2020,"month":1,"date":15},{"year":2020,"month":1,"date":17},{"year":2020,"month":1,"date":20},{"year":2020,"month":1,"date":22},{"year":2020,"month":1,"date":25},{"year":2020,"month":1,"date":27},{"year":2020,"month":1,"date":30},
                           {"year":2020,"month":2,"date":1},{"year":2020,"month":2,"date":3},{"year":2020,"month":2,"date":6},{"year":2020,"month":2,"date":8},{"year":2020,"month":2,"date":11},{"year":2020,"month":2,"date":13},{"year":2020,"month":2,"date":16},{"year":2020,"month":2,"date":18},{"year":2020,"month":2,"date":20},{"year":2020,"month":2,"date":23},{"year":2020,"month":2,"date":25},
                           {"year":2020,"month":3,"date":1},{"year":2020,"month":3,"date":3},{"year":2020,"month":3,"date":5},{"year":2020,"month":3,"date":8},{"year":2020,"month":3,"date":10},{"year":2020,"month":3,"date":13},{"year":2020,"month":3,"date":15}],
                "tickCount":100,
                "labelExpr":"date(datum.value) == 1 || (month(datum.value) == 11 && date(datum.value) == 4) ? timeFormat(datum.value, '%b') : timeFormat(datum.value, '%-d')",
                "labelAlign":{"condition":{"test":"month(datum.value) == 11 && date(datum.value) == 4","value":"left"},"value":"center"},
                "labelFlush":false,"labelOverlap":false,"tickSize":3,"tickColor":"#aaaaaa","labelPadding":2,"labelColor":"#666666","labelFontSize":11,"domain":false,
                "grid":true,"gridColor":"#e2e2e2","gridOpacity":{"condition":{"test":"date(datum.value) == 1","value":1},"value":0},"title":null}},
    "y":{"field":"g","type":"quantitative","scale":{"domain":[-400,260],"zero":false,"nice":false},
         "axis":{"orient":"right","values":[-0.00001],"tickCount":100,"labelExpr":"'-' + format(abs(datum.value), ',.4f')","grid":true,"gridColor":"#e2e2e2","tickSize":6,"tickColor":"#aaaaaa","labelPadding":3,"labelColor":"#555555","labelFontSize":11,"domain":false,"title":null}},
    "y2":{"datum":0},
    "color":{"condition":{"test":"datum.g > 0","value":"#22e622"},"value":"#ff1a1a"}
   }},
  {"data":{"name":"c"},
   "mark":{"type":"line","strokeWidth":1.2},
   "encoding":{
    "x":{"field":"t","type":"temporal","scale":{"domain":[{"year":2019,"month":12,"date":3,"hours":22},{"year":2020,"month":3,"date":16,"hours":17,"minutes":30}]}},
    "y":{"field":"q","type":"quantitative","scale":{"domain":[-400,260],"zero":false,"nice":false}},
    "color":{"value":"#f28a3c"}
   }},
  {"data":{"name":"c"},
   "mark":{"type":"line","strokeWidth":1.2},
   "encoding":{
    "x":{"field":"t","type":"temporal","scale":{"domain":[{"year":2019,"month":12,"date":3,"hours":22},{"year":2020,"month":3,"date":16,"hours":17,"minutes":30}]}},
    "y":{"field":"m","type":"quantitative","scale":{"domain":[-400,260],"zero":false,"nice":false}},
    "color":{"datum":"MACD (12,26,9)","type":"nominal","scale":{"range":["#2e50ff"]},
             "legend":{"title":null,"orient":"top-left","labelExpr":"datum.label + '\u00a0\u00a0\u00a0\u00a0\u00a0\u200b'"}}
   }}
 ]
}
]
}
